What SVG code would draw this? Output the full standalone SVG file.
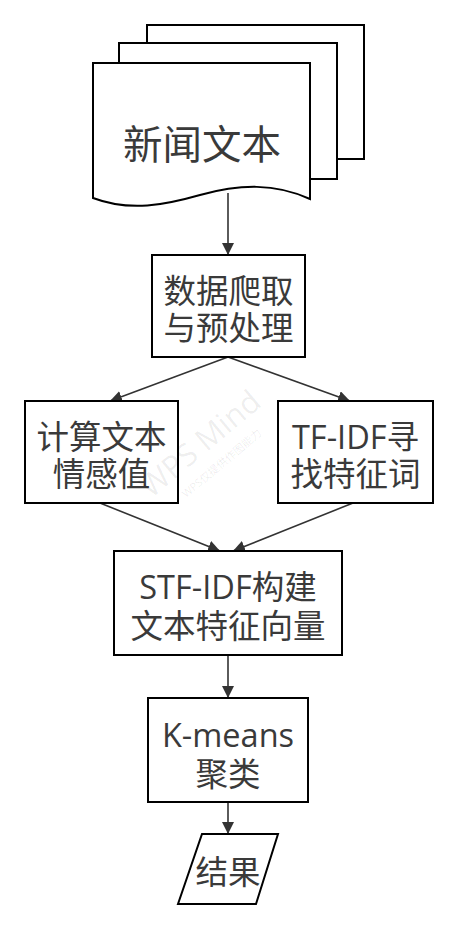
<svg xmlns="http://www.w3.org/2000/svg" width="457" height="930" viewBox="0 0 457 930">
<defs>
<marker id="ah" viewBox="0 0 10 10" refX="10" refY="5" markerWidth="12" markerHeight="12" markerUnits="userSpaceOnUse" orient="auto">
<path d="M0,0 L10,5 L0,10 z" fill="#333"/>
</marker>
<style>
.box{fill:#fff;stroke:#000;stroke-width:2}
.t{font-family:"Open Sans","Noto Sans CJK SC",sans-serif;font-size:32.5px;fill:#3a3a3a;text-anchor:middle}
.big{font-size:39.5px}
.c{fill:none;stroke:#333;stroke-width:1.6;marker-end:url(#ah)}
.wm{font-family:"Open Sans","Noto Sans CJK SC",sans-serif;fill:#000;fill-opacity:0.08;text-anchor:middle}
.wm1{font-size:31px}
.wm2{font-size:11px}
</style>
</defs>
<rect width="457" height="930" fill="#fff"/>
<g id="connectors">
<line class="c" x1="228" y1="193" x2="228" y2="255"/>
<line class="c" x1="228" y1="357" x2="110" y2="401"/>
<line class="c" x1="228" y1="357" x2="350" y2="401"/>
<line class="c" x1="100" y1="503" x2="220" y2="551"/>
<line class="c" x1="353" y1="503" x2="233" y2="551"/>
<line class="c" x1="228" y1="655" x2="228" y2="698"/>
<line class="c" x1="228" y1="802" x2="228" y2="834"/>
</g>
<g id="news">
<rect class="box" x="147" y="25" width="217" height="134"/>
<rect class="box" x="119" y="43" width="218" height="136"/>
<path class="box" d="M93,63 H310 V199 C275,183 240,184 200,195 C165,205 130,212 93,198 Z"/>
<text class="t big" x="202" y="159">新闻文本</text>
</g>
<g id="crawl">
<rect class="box" x="152" y="255" width="153" height="102"/>
<text class="t" x="228.5" y="303">数据爬取</text>
<text class="t" x="228.5" y="340">与预处理</text>
</g>
<g id="sentiment">
<rect class="box" x="25" y="401" width="153" height="102"/>
<text class="t" x="101.5" y="449">计算文本</text>
<text class="t" x="101.5" y="486">情感值</text>
</g>
<g id="tfidf">
<rect class="box" x="278" y="401" width="155" height="102"/>
<text class="t" x="355.5" y="449">TF-IDF寻</text>
<text class="t" x="355.5" y="486">找特征词</text>
</g>
<g id="stf">
<rect class="box" x="114" y="551" width="228" height="104"/>
<text class="t" x="228" y="599">STF-IDF构建</text>
<text class="t" x="228" y="638">文本特征向量</text>
</g>
<g id="kmeans">
<rect class="box" x="148" y="698" width="160" height="104"/>
<text class="t" x="228" y="747">K-means</text>
<text class="t" x="228" y="786">聚类</text>
</g>
<g id="result">
<path class="box" d="M202,834 H278 L256,904 H178 Z"/>
<text class="t" x="228" y="884">结果</text>
</g>
<g id="watermark" transform="translate(207,452) rotate(-40)">
<text class="wm wm1" x="0" y="0">WPS Mind</text>
<text class="wm wm2" x="4" y="22">WPS仅提供作图能力</text>
</g>
</svg>
